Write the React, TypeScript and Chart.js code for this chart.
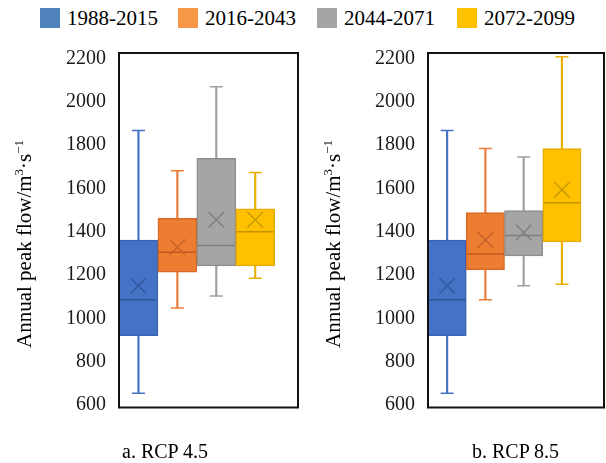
import { useEffect, useRef } from "react";
import { Chart, registerables } from "chart.js";

Chart.register(...registerables);

// Periods shown in each panel (one box per period)
const PERIODS = ["1988-2015", "2016-2043", "2044-2071", "2072-2099"];
const SLOTS = [1, 2, 3, 4];
const Y_TICKS = [600, 800, 1000, 1200, 1400, 1600, 1800, 2000, 2200];

// a. RCP 4.5 — annual peak flow statistics (m³/s)
const RCP45_MIN = [654, 1048, 1103, 1185];
const RCP45_Q1 = [920, 1213, 1242, 1242];
const RCP45_MEDIAN = [1085, 1305, 1336, 1399];
const RCP45_MEAN = [1150, 1328, 1455, 1455];
const RCP45_Q3 = [1361, 1462, 1739, 1505];
const RCP45_MAX = [1867, 1681, 2069, 1673];

// b. RCP 8.5 — annual peak flow statistics (m³/s)
const RCP85_MIN = [654, 1086, 1150, 1157];
const RCP85_Q1 = [920, 1224, 1288, 1353];
const RCP85_MEDIAN = [1085, 1297, 1382, 1534];
const RCP85_MEAN = [1150, 1362, 1396, 1593];
const RCP85_Q3 = [1361, 1488, 1497, 1784];
const RCP85_MAX = [1867, 1784, 1745, 2208];

const SERIF = "'Liberation Serif', 'Times New Roman', serif";

const SWATCH = ["#4F81BD", "#F79646", "#A5A5A5", "#FFC000"];
const BOX_FILL = ["#4472C4", "#ED7D31", "#A5A5A5", "#FFC000"];
const BOX_EDGE = ["#3A64B3", "#D9692A", "#8E8E8E", "#E6AC00"];
const WHISKER = ["#4472C4", "#E97C3A", "#A0A0A0", "#E8B000"];
const MEDIAN = ["#2F5597", "#C0591E", "#7F7F7F", "#C49400"];
const MEAN = ["#3358A0", "#C4622A", "#808080", "#C89C00"];

type Stats = {
  min: number[];
  q1: number[];
  median: number[];
  mean: number[];
  q3: number[];
  max: number[];
};

const RCP45: Stats = {
  min: RCP45_MIN,
  q1: RCP45_Q1,
  median: RCP45_MEDIAN,
  mean: RCP45_MEAN,
  q3: RCP45_Q3,
  max: RCP45_MAX,
};

const RCP85: Stats = {
  min: RCP85_MIN,
  q1: RCP85_Q1,
  median: RCP85_MEDIAN,
  mean: RCP85_MEAN,
  q3: RCP85_Q3,
  max: RCP85_MAX,
};

// Frame around the plot area plus the rotated y-axis title with superscripts
const framePlugin = {
  id: "frameAndTitle",
  afterDraw(chart: any) {
    const { ctx, chartArea } = chart;
    const { left, top, right, bottom } = chartArea;
    ctx.save();
    ctx.strokeStyle = "#111";
    ctx.lineWidth = 2;
    ctx.strokeRect(left, top, right - left, bottom - top);
    ctx.restore();

    ctx.save();
    ctx.translate(left - 88, bottom - 59.5);
    ctx.rotate(-Math.PI / 2);
    ctx.fillStyle = "#000";
    ctx.textBaseline = "alphabetic";
    ctx.textAlign = "left";
    const big = `21px ${SERIF}`;
    const small = `13px ${SERIF}`;
    const parts: [string, string, number][] = [
      ["Annual peak flow/m", big, 0],
      ["3", small, -8],
      ["\u00B7s", big, 0],
      ["\u22121", small, -8],
    ];
    let cx = 0;
    for (const [t, f, dy] of parts) {
      ctx.font = f;
      ctx.fillText(t, cx, dy);
      cx += ctx.measureText(t).width;
    }
    ctx.restore();
  },
};

function makeConfig(s: Stats): any {
  const pts = (vals: number[]) => SLOTS.map((x, i) => ({ x, y: vals[i] }));
  const halfBox = (c: any) => {
    const xs = c.chart.scales.x;
    return (xs.getPixelForValue(2) - xs.getPixelForValue(1)) / 2 - 1;
  };
  return {
    type: "bar",
    data: {
      datasets: [
        {
          type: "bar",
          label: "range",
          data: SLOTS.map((x, i) => ({ x, y: [s.min[i], s.max[i]] })),
          backgroundColor: WHISKER,
          barThickness: 1.5,
          grouped: false,
          order: 5,
        },
        {
          type: "bar",
          label: "interquartile",
          data: SLOTS.map((x, i) => ({ x, y: [s.q1[i], s.q3[i]] })),
          backgroundColor: BOX_FILL,
          borderColor: BOX_EDGE,
          borderWidth: 1.5,
          borderSkipped: false,
          categoryPercentage: 1,
          barPercentage: 1,
          grouped: false,
          order: 4,
        },
        {
          type: "scatter",
          label: "caps",
          data: [...pts(s.min), ...pts(s.max)],
          pointStyle: "line",
          pointRadius: 6.5,
          pointBorderColor: [...WHISKER, ...WHISKER],
          pointBorderWidth: 1.5,
          order: 3,
        },
        {
          type: "scatter",
          label: "median",
          data: pts(s.median),
          pointStyle: "line",
          pointRadius: halfBox,
          pointBorderColor: MEDIAN,
          pointBorderWidth: 1.5,
          order: 2,
        },
        {
          type: "scatter",
          label: "mean",
          data: pts(s.mean),
          pointStyle: "crossRot",
          pointRadius: 11,
          pointBorderColor: MEAN,
          pointBorderWidth: 1.5,
          order: 1,
        },
      ],
    },
    options: {
      responsive: false,
      animation: false,
      events: [],
      layout: {
        autoPadding: false,
        padding: { top: 53, bottom: 55.5, left: 0, right: 2 },
      },
      plugins: {
        legend: { display: false },
        tooltip: { enabled: false },
      },
      scales: {
        x: {
          type: "linear",
          min: 0.5,
          max: 5.1,
          offset: false,
          display: false,
          afterBuildTicks: (sc: any) => {
            sc.ticks = SLOTS.map((v) => ({ value: v }));
          },
        },
        y: {
          type: "linear",
          min: 588,
          max: 2225,
          afterBuildTicks: (sc: any) => {
            sc.ticks = Y_TICKS.map((v) => ({ value: v }));
          },
          afterFit: (sc: any) => {
            sc.width = 119;
          },
          grid: { display: false, drawTicks: false },
          border: { display: false },
          ticks: {
            padding: 13,
            color: "#1a1a1a",
            autoSkip: false,
            font: { family: SERIF, size: 20 },
            callback: (v: any) => String(v),
          },
        },
      },
    },
    plugins: [framePlugin],
  };
}

function BoxPanel({ stats, left, width }: { stats: Stats; left: number; width: number }) {
  const ref = useRef<HTMLCanvasElement>(null);
  useEffect(() => {
    const chart = new Chart(ref.current as HTMLCanvasElement, makeConfig(stats));
    return () => chart.destroy();
  }, [stats]);
  return (
    <canvas
      ref={ref}
      width={width}
      height={463}
      style={{ position: "absolute", left, top: 0, width, height: 463 }}
    />
  );
}

const LEGEND_X = [40, 178, 317, 457];

export default function App() {
  return (
    <div
      style={{
        position: "absolute",
        left: 0,
        top: 0,
        width: 606,
        height: 463,
        background: "#fff",
        overflow: "hidden",
      }}
    >
      {PERIODS.map((p, i) => (
        <div
          key={p}
          style={{
            position: "absolute",
            left: LEGEND_X[i],
            top: 8,
            height: 20,
            display: "flex",
            alignItems: "center",
          }}
        >
          <span style={{ display: "inline-block", width: 20, height: 20, background: SWATCH[i] }} />
          <span
            style={{
              marginLeft: 7,
              fontFamily: SERIF,
              fontSize: 21,
              lineHeight: "20px",
              color: "#000",
              whiteSpace: "nowrap",
            }}
          >
            {p}
          </span>
        </div>
      ))}
      <BoxPanel stats={RCP45} left={0} width={300} />
      <BoxPanel stats={RCP85} left={309} width={297} />
      <div
        style={{
          position: "absolute",
          left: 122,
          top: 441,
          fontFamily: SERIF,
          fontSize: 20,
          lineHeight: "20px",
          whiteSpace: "nowrap",
          color: "#000",
        }}
      >
        a. RCP 4.5
      </div>
      <div
        style={{
          position: "absolute",
          left: 472,
          top: 441,
          fontFamily: SERIF,
          fontSize: 20,
          lineHeight: "20px",
          whiteSpace: "nowrap",
          color: "#000",
        }}
      >
        b. RCP 8.5
      </div>
    </div>
  );
}
